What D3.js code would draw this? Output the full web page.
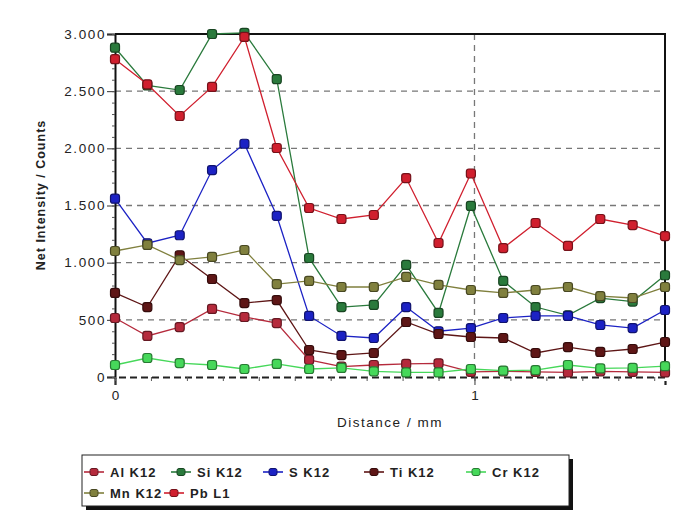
<!DOCTYPE html>
<html>
<head>
<meta charset="utf-8">
<script src="https://cdnjs.cloudflare.com/ajax/libs/d3/7.8.5/d3.min.js"></script>
<style>
  body { margin: 0; background: #fff; }
  svg text { font-family: "Liberation Sans", Arial, sans-serif; fill: #222; }
</style>
</head>
<body>
<div id="chart"></div>
<script>
// Line scan data, net intensity per element along the distance (mm)
const distance = [0, 0.09, 0.18, 0.27, 0.36, 0.45, 0.54, 0.63, 0.72, 0.81,
  0.9, 0.99, 1.08, 1.17, 1.26, 1.35, 1.44, 1.53];

const alK12 = [516, 359, 437, 595, 525, 472, 150, 90, 105, 114, 120, 45, 50, 45, 40, 50, 45, 40];
const siK12 = [2880, 2550, 2510, 3000, 3010, 2605, 1041, 612, 630, 980, 560, 1496, 840, 612, 540, 690, 660, 890];
const sK12 = [1560, 1170, 1240, 1810, 2040, 1410, 534, 359, 341, 612, 400, 428, 516, 534, 534, 455, 428, 586];
const tiK12 = [735, 612, 1065, 857, 647, 673, 236, 192, 210, 481, 376, 350, 341, 210, 262, 219, 245, 306];
const crK12 = [105, 166, 122, 105, 70, 114, 70, 79, 50, 40, 40, 70, 55, 61, 105, 75, 79, 95];
const mnK12 = [1102, 1155, 1023, 1050, 1111, 813, 840, 787, 787, 875, 805, 761, 735, 761, 787, 708, 691, 787];
const pbL1 = [2780, 2560, 2283, 2537, 2974, 2003, 1478, 1382, 1417, 1740, 1172, 1780, 1128, 1347, 1146, 1382, 1329, 1233];

const seriesNames = ["Al K12", "Si K12", "S K12", "Ti K12", "Cr K12", "Mn K12", "Pb L1"];
const seriesValues = [alK12, siK12, sK12, tiK12, crK12, mnK12, pbL1];
const seriesColors = ["#b52a3c", "#2a7a3c", "#1c22c4", "#5e1616", "#46d85a", "#80803e", "#d01f2e"];

const yTicks = [0, 500, 1000, 1500, 2000, 2500, 3000];
const xTicks = [0, 1];

const width = 673;
const height = 529;
const plot = {left: 115, right: 665, top: 34, bottom: 377};

const svg = d3.select("#chart")
  .append("svg")
  .attr("width", width)
  .attr("height", height);

// Scales
const xScale = d3.scaleLinear()
  .domain([0, 1.53])
  .range([plot.left, plot.right]);

const yScale = d3.scaleLinear()
  .domain([0, 3000])
  .range([plot.bottom, plot.top]);

const fmt = d3.format(",");
const yFormat = function(d) {
  return fmt(d).replace(",", ".");
};

// Grid lines (dashed)
svg.append("g")
  .selectAll("line")
  .data(yTicks.filter((d) => d > 0))
  .enter()
  .append("line")
  .attr("x1", plot.left)
  .attr("x2", plot.right)
  .attr("y1", (d) => yScale(d))
  .attr("y2", (d) => yScale(d))
  .attr("stroke", "#777")
  .attr("stroke-width", 1.3)
  .attr("stroke-dasharray", "6,5");

svg.append("g")
  .selectAll("line")
  .data(xTicks.filter((d) => d > 0))
  .enter()
  .append("line")
  .attr("x1", (d) => xScale(d))
  .attr("x2", (d) => xScale(d))
  .attr("y1", plot.top)
  .attr("y2", plot.bottom)
  .attr("stroke", "#777")
  .attr("stroke-width", 1.3)
  .attr("stroke-dasharray", "6,5");

// Frame on top and right
svg.append("path")
  .attr("d", "M" + plot.left + "," + plot.top + "H" + plot.right + "V" + plot.bottom)
  .attr("fill", "none")
  .attr("stroke", "#111")
  .attr("stroke-width", 2);

// Y axis with minor ticks
const yAxis = d3.axisLeft(yScale)
  .tickValues(yTicks)
  .tickFormat(yFormat)
  .tickSize(8)
  .tickPadding(1);

const yAxisG = svg.append("g")
  .attr("class", "axis")
  .attr("transform", "translate(" + plot.left + ",0)")
  .call(yAxis);
yAxisG.select(".domain").attr("stroke", "#111").attr("stroke-width", 2);
yAxisG.selectAll(".tick line").attr("stroke", "#333");
yAxisG.selectAll(".tick text")
  .style("font-size", "13.5px")
  .style("letter-spacing", "1.6px")
  .attr("fill", "#333");

svg.append("g")
  .attr("transform", "translate(" + plot.left + ",0)")
  .call(d3.axisLeft(yScale).ticks(30).tickSize(3).tickFormat(""))
  .call((g) => g.select(".domain").remove())
  .selectAll(".tick line")
  .attr("stroke", "#555");

// X axis with minor ticks
const xAxis = d3.axisBottom(xScale)
  .tickValues(xTicks)
  .tickFormat(d3.format("d"))
  .tickSize(8)
  .tickPadding(5);

const xAxisG = svg.append("g")
  .attr("class", "axis")
  .attr("transform", "translate(0," + plot.bottom + ")")
  .call(xAxis);
xAxisG.select(".domain")
  .attr("stroke", "#222")
  .attr("stroke-width", 2.2)
  .attr("stroke-dasharray", "7,4");
xAxisG.selectAll(".tick line").attr("stroke", "#333");
xAxisG.selectAll(".tick text").style("font-size", "13.5px").attr("fill", "#333");

svg.append("g")
  .attr("transform", "translate(0," + plot.bottom + ")")
  .call(d3.axisBottom(xScale).ticks(15).tickSize(4).tickFormat(""))
  .call((g) => g.select(".domain").remove())
  .selectAll(".tick line")
  .attr("stroke", "#555");

// Axis titles
svg.append("text")
  .attr("x", (plot.left + plot.right) / 2)
  .attr("y", 427)
  .attr("text-anchor", "middle")
  .style("font-size", "13.5px")
  .style("letter-spacing", "1.5px")
  .text("Distance / mm");

svg.append("text")
  .attr("transform", "translate(45," + 195 + ") rotate(-90)")
  .attr("text-anchor", "middle")
  .style("font-size", "12.5px")
  .style("font-weight", "bold")
  .style("letter-spacing", "1px")
  .text("Net Intensity / Counts");

// Series lines and markers
const line = d3.line()
  .x((d, i) => xScale(distance[i]))
  .y((d) => yScale(d));

const markerSize = 9;

seriesValues.forEach(function(values, k) {
  const g = svg.append("g").attr("class", "series");
  g.append("path")
    .datum(values)
    .attr("d", line)
    .attr("fill", "none")
    .attr("stroke", seriesColors[k])
    .attr("stroke-width", 1.3);

  g.selectAll("rect")
    .data(values)
    .enter()
    .append("rect")
    .attr("x", (d, i) => xScale(distance[i]) - markerSize / 2)
    .attr("y", (d) => yScale(d) - markerSize / 2)
    .attr("width", markerSize)
    .attr("height", markerSize)
    .attr("rx", 2.5)
    .attr("fill", seriesColors[k])
    .attr("stroke", d3.color(seriesColors[k]).darker(1.6))
    .attr("stroke-width", 1.2);
});

// Legend
const legend = {x: 82, y: 455, w: 487, h: 51};
svg.append("rect")
  .attr("x", legend.x + 4)
  .attr("y", legend.y + 4)
  .attr("width", legend.w)
  .attr("height", legend.h)
  .attr("fill", "#111");
svg.append("rect")
  .attr("x", legend.x)
  .attr("y", legend.y)
  .attr("width", legend.w)
  .attr("height", legend.h)
  .attr("fill", "#fff")
  .attr("stroke", "#222")
  .attr("stroke-width", 1);

const legendPos = [
  [94, 472], [181, 472], [273, 472], [374, 472], [476, 472],
  [94, 493], [174, 493],
];

seriesNames.forEach(function(name, k) {
  const p = legendPos[k];
  const g = svg.append("g").attr("transform", "translate(" + p[0] + "," + p[1] + ")");
  g.append("line")
    .attr("x1", -10)
    .attr("x2", 10)
    .attr("stroke", seriesColors[k])
    .attr("stroke-width", 1.6);
  g.append("rect")
    .attr("x", -4)
    .attr("y", -3.5)
    .attr("width", 8)
    .attr("height", 7)
    .attr("rx", 2)
    .attr("fill", seriesColors[k])
    .attr("stroke", d3.color(seriesColors[k]).darker(1.6));
  g.append("text")
    .attr("x", 16)
    .attr("y", 5)
    .style("font-size", "13px")
    .style("font-weight", "bold")
    .style("letter-spacing", "1px")
    .attr("fill", "#333")
    .text(name);
});
</script>
</body>
</html>
